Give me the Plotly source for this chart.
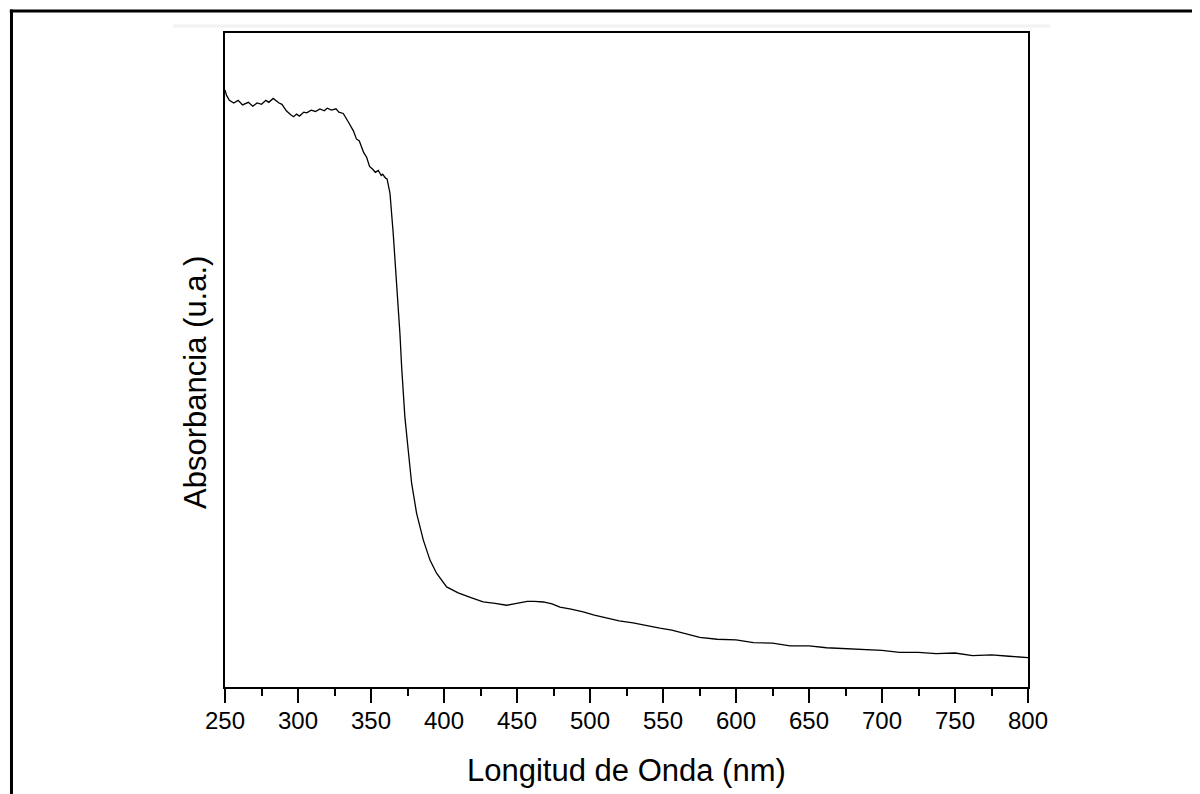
import plotly.graph_objects as go

# Wavelength (nm) and absorbance (arbitrary units)
wavelength = [250, 251, 253, 256, 259, 262, 266, 269, 272, 275, 278, 280, 283, 285, 287,
              289, 292, 295, 297, 299, 301, 304, 306, 309, 312, 315, 318, 320, 323, 326,
              328, 331, 333, 335, 338, 340, 342, 345, 347, 349, 351, 353, 355, 357, 358,
              360, 361, 363, 365.2, 367.6, 369.8, 371, 373.2, 375.5, 377.8, 381.2, 385.8,
              390.4, 394.9, 401.8, 409.7, 418, 426.8, 435, 442.9, 448, 452, 457, 462, 468,
              474, 479.4, 487, 495.3, 503, 511.3, 520, 529.5, 538, 547.8, 556, 563.8, 575.2,
              587, 600, 612, 625, 637, 650, 662, 675, 687, 700, 712, 725, 737, 750, 762,
              775, 787, 800]
absorbance = [0.913, 0.905, 0.897, 0.893, 0.897, 0.890, 0.894, 0.888, 0.893, 0.891, 0.897, 0.894,
              0.900, 0.896, 0.893, 0.891, 0.881, 0.875, 0.872, 0.876, 0.873, 0.879, 0.878, 0.882,
              0.880, 0.884, 0.881, 0.885, 0.882, 0.884, 0.879, 0.877, 0.870, 0.862, 0.850, 0.838,
              0.835, 0.817, 0.810, 0.796, 0.792, 0.787, 0.790, 0.782, 0.784, 0.778, 0.777, 0.755,
              0.694, 0.618, 0.541, 0.489, 0.413, 0.362, 0.312, 0.266, 0.225, 0.194, 0.174, 0.153,
              0.144, 0.137, 0.130, 0.128, 0.125, 0.127, 0.129, 0.131, 0.131, 0.130, 0.127, 0.122,
              0.119, 0.115, 0.110, 0.106, 0.101, 0.098, 0.094, 0.090, 0.087, 0.083, 0.076, 0.073,
              0.072, 0.068, 0.067, 0.063, 0.063, 0.060, 0.059, 0.057, 0.056, 0.053, 0.053, 0.051,
              0.052, 0.048, 0.049, 0.047, 0.045]

x_ticks = [250, 300, 350, 400, 450, 500, 550, 600, 650, 700, 750, 800]

fig = go.Figure()
fig.add_trace(go.Scatter(x=wavelength, y=absorbance, mode="lines",
                         line=dict(color="black", width=1.3), showlegend=False))

FONT = "Arial, Liberation Sans, sans-serif"

fig.update_layout(
    width=1192, height=786,
    margin=dict(l=217, r=172, t=25, b=107),
    paper_bgcolor="white", plot_bgcolor="white",
    font=dict(family=FONT, color="black"),
    xaxis=dict(range=[250, 800], tickvals=x_ticks, ticktext=[str(v) for v in x_ticks],
               showgrid=False, zeroline=False, showline=True, linecolor="black",
               linewidth=2, mirror=True, ticks="outside", ticklen=14, tickwidth=2,
               tickcolor="black", tickfont=dict(size=24, family=FONT, color="black"),
               ticklabelstandoff=-3,
               minor=dict(dtick=25, tick0=250, ticks="outside", ticklen=7, tickwidth=2,
                          tickcolor="black", showgrid=False)),
    yaxis=dict(range=[0, 1], showgrid=False, zeroline=False, showline=True,
               linecolor="black", linewidth=2, mirror=True, ticks="",
               showticklabels=False),
    annotations=[
        dict(text="Longitud de Onda (nm)", xref="paper", yref="paper", x=0.5, y=0,
             xanchor="center", yanchor="middle", yshift=-83, showarrow=False,
             font=dict(size=31, family=FONT, color="black")),
        dict(text="Absorbancia (u.a.)", xref="paper", yref="paper", x=0, y=0.465,
             xanchor="center", yanchor="middle", xshift=-29, textangle=-90,
             showarrow=False, font=dict(size=31, family=FONT, color="black")),
    ],
    shapes=[
        dict(type="line", xref="paper", yref="paper", x0=-0.268, x1=1.222,
             y0=1.0336, y1=1.0336, line=dict(color="black", width=3)),
        dict(type="line", xref="paper", yref="paper", x0=-0.2659, x1=-0.2659,
             y0=1.036, y1=-0.2, line=dict(color="black", width=3)),
        dict(type="line", xref="paper", yref="paper", x0=-0.065, x1=1.028,
             y0=1.0107, y1=1.0107, line=dict(color="#f2f2f2", width=3), layer="below"),
    ],
)

fig.write_html("out.html")
